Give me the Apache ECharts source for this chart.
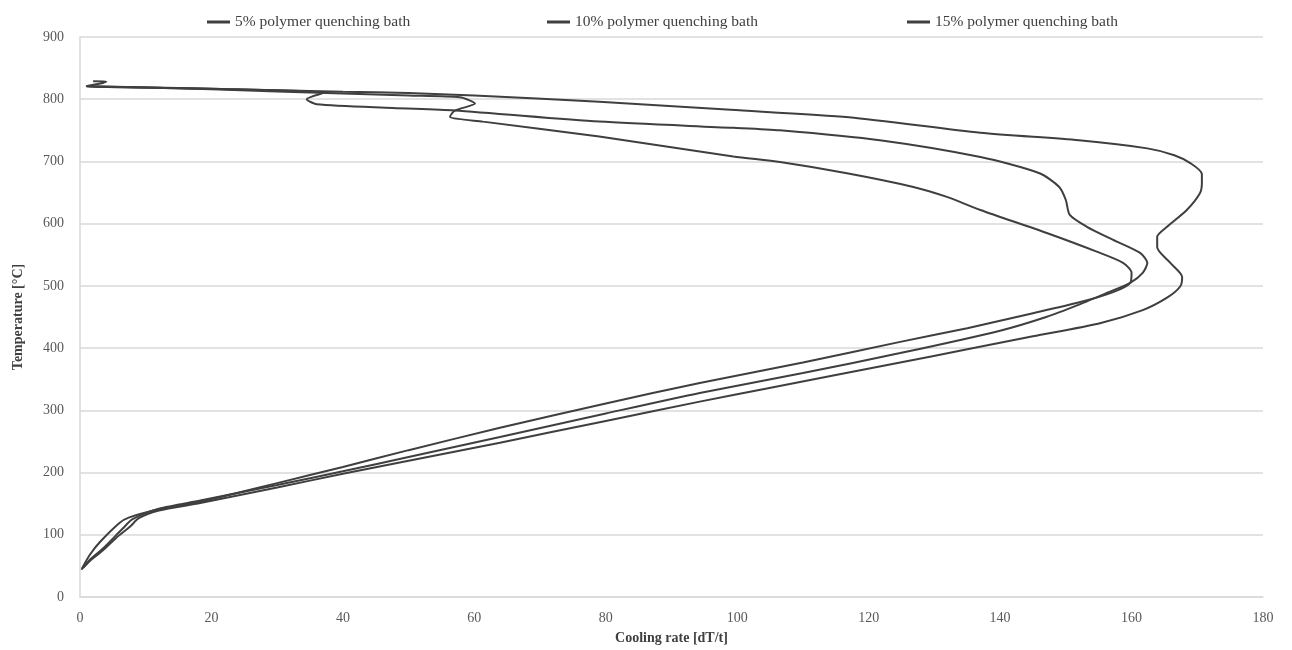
<!DOCTYPE html>
<html>
<head>
<meta charset="utf-8">
<script src="https://cdn.jsdelivr.net/npm/echarts@6/dist/echarts.min.js"></script>
<style>
html,body{margin:0;padding:0;background:#fff;}
#chart{width:1292px;height:650px;}
</style>
</head>
<body>
<div id="chart"></div>
<script>
// Series names (legend)
const seriesNames = ['5% polymer quenching bath', '10% polymer quenching bath', '15% polymer quenching bath'];

// Axis ticks
const xTicks = [0, 20, 40, 60, 80, 100, 120, 140, 160, 180];
const yTicks = [0, 100, 200, 300, 400, 500, 600, 700, 800, 900];

// [cooling rate, temperature]
const bath5 = [
  [1, 821], [20, 817], [40, 812], [50, 810], [60, 806], [79, 796], [99, 783], [117, 771],
  [137, 746], [152, 734], [162.4, 721], [166.5, 710], [169, 697], [170.7, 680], [170.7, 665],
  [170.4, 649], [168.4, 622], [165.4, 595], [163.9, 579], [163.9, 562], [165.9, 537],
  [167.7, 514], [167.4, 499], [165.4, 481], [161.7, 461], [155.2, 440], [145, 419],
  [135, 398], [124.8, 377], [114.6, 356], [104.5, 335], [94.3, 314], [80, 283],
  [63.9, 248], [50, 219], [40, 198], [30, 176], [18.3, 151], [12, 139], [9, 127],
  [7.6, 113], [5.5, 95], [3.5, 75], [1.5, 58], [0.2, 44]
];
const bath10 = [
  [2, 829], [4, 828.5], [3.5, 826], [1, 821], [20, 817], [37, 810], [34.5, 800], [36, 792],
  [47.6, 786], [57, 782], [79, 764], [99.4, 754], [106.5, 750], [121.7, 734], [137, 707],
  [146, 681], [149, 659], [150, 638], [150.6, 614], [153.2, 595], [157.2, 574],
  [161.3, 553], [162.4, 537], [161.7, 521], [159.8, 505], [156.3, 489], [152, 470],
  [147, 450], [140, 428], [124.8, 392], [110, 360], [94.3, 328], [80, 295], [63.9, 257],
  [50, 225], [40, 202], [30, 180], [18.3, 155], [12, 142], [8, 125], [6.5, 110],
  [3.5, 78], [1.5, 60], [0.5, 47]
];
const bath15 = [
  [1, 821], [20, 816], [40, 809], [50, 806], [57.8, 803], [60.1, 793], [57, 781.6],
  [56.3, 772], [61.3, 764], [79, 740], [99.4, 708], [106.5, 699], [116.7, 681],
  [126.8, 659], [131.9, 643], [137, 622], [147.1, 585], [154.7, 555], [158.7, 537],
  [160, 521], [159.8, 505], [157.2, 490], [152.2, 474], [145, 456], [135, 432],
  [124.8, 410], [110, 377], [94.3, 344], [80, 311], [63.9, 272], [50, 236], [40, 209],
  [30, 183], [18.3, 153], [12, 141], [7.5, 128], [6, 119], [3, 88], [1.5, 68], [0.3, 46]
];

const seriesData = [bath5, bath10, bath15];
const lineColor = '#3f3f3f';
const serif = '"Liberation Serif", "DejaVu Serif", serif';

const chart = echarts.init(document.getElementById('chart'), null, {renderer: 'canvas'});

const legendLefts = [202, 542, 902];

chart.setOption({
  animation: false,
  backgroundColor: '#ffffff',
  grid: {left: 80, right: 29, top: 37, bottom: 53, containLabel: false},
  legend: seriesNames.map((n, i) => ({
    data: [n],
    left: legendLefts[i],
    top: 9,
    icon: 'rect',
    itemWidth: 23,
    itemHeight: 3,
    itemGap: 3,
    textStyle: {fontFamily: serif, fontSize: 15.5, color: '#404040'}
  })),
  xAxis: {
    type: 'value',
    min: xTicks[0],
    max: xTicks[xTicks.length - 1],
    interval: 20,
    name: 'Cooling rate [dT/t]',
    nameLocation: 'middle',
    nameGap: 34,
    nameTextStyle: {fontFamily: serif, fontSize: 14, fontWeight: 'bold', color: '#404040'},
    axisLine: {show: true, lineStyle: {color: '#d9d9d9', width: 1.5}},
    axisTick: {show: false},
    splitLine: {show: false},
    axisLabel: {fontFamily: serif, fontSize: 14, color: '#595959', margin: 14}
  },
  yAxis: {
    type: 'value',
    min: yTicks[0],
    max: yTicks[yTicks.length - 1],
    interval: 100,
    name: 'Temperature [°C]',
    nameLocation: 'middle',
    nameGap: 55,
    nameRotate: 90,
    nameTextStyle: {fontFamily: serif, fontSize: 14, fontWeight: 'bold', color: '#404040'},
    axisLine: {show: true, lineStyle: {color: '#d9d9d9', width: 1.5}},
    axisTick: {show: false},
    splitLine: {show: true, lineStyle: {color: '#d9d9d9', width: 1.5}},
    axisLabel: {fontFamily: serif, fontSize: 14, color: '#595959', margin: 16}
  },
  series: seriesNames.map((n, i) => ({
    name: n,
    type: 'line',
    data: seriesData[i],
    showSymbol: false,
    symbol: 'none',
    smooth: 0.25,
    color: lineColor,
    lineStyle: {color: lineColor, width: 2}
  }))
});
</script>
</body>
</html>
